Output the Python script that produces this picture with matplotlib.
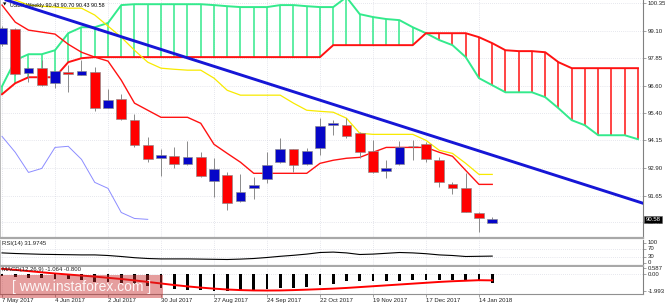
import numpy as np
import pandas as pd
import matplotlib
matplotlib.use("Agg")
import matplotlib.pyplot as plt
from matplotlib.patches import Rectangle
import matplotlib.transforms as mtransforms

plt.rcParams['font.family'] = ['Liberation Sans', 'DejaVu Sans']

# ---------------- data ----------------
title_text = "USDX,Weekly 90.43 90.70 90.43 90.58"
start_date = "2017-05-07"

opens = [98.50, 99.17, 97.18, 97.41, 96.73, 97.23, 97.09, 97.23, 95.60, 96.01,
         95.06, 93.92, 93.34, 93.43, 93.06, 93.38, 92.30, 92.57, 91.39, 91.98,
         92.39, 93.15, 93.74, 93.06, 93.79, 94.83, 94.83, 94.47, 93.65, 92.75,
         93.06, 93.88, 93.97, 93.25, 92.16, 91.98, 90.85, 90.43]
highs = [99.31, 99.22, 97.45, 97.77, 97.29, 97.54, 97.77, 97.45, 96.46, 96.23,
         95.33, 94.29, 93.74, 93.83, 94.10, 93.61, 93.34, 92.70, 92.61, 92.48,
         93.61, 94.24, 93.76, 93.79, 95.15, 95.06, 95.15, 94.51, 94.15, 93.25,
         94.10, 94.15, 94.06, 93.38, 92.25, 92.66, 90.89, 90.70]
lows = [98.40, 97.09, 96.78, 96.59, 96.50, 96.32, 97.09, 95.46, 95.60, 95.08,
        93.83, 93.15, 92.52, 92.88, 93.02, 92.48, 91.57, 90.98, 91.35, 91.48,
        92.20, 93.11, 92.70, 93.04, 93.47, 94.38, 94.24, 93.34, 92.66, 92.43,
        93.02, 93.25, 93.15, 92.02, 91.71, 90.89, 90.03, 90.43]
closes = [99.22, 97.14, 97.41, 96.64, 97.27, 97.14, 97.27, 95.60, 95.96, 95.10,
          93.92, 93.29, 93.47, 93.06, 93.38, 92.52, 92.84, 91.30, 91.80, 92.11,
          93.02, 93.74, 93.02, 93.65, 94.78, 94.92, 94.33, 93.61, 92.70, 92.88,
          93.83, 93.88, 93.29, 92.25, 91.98, 90.89, 90.62, 90.58]

tenkan = [100.26, 99.49, 99.13, 99.04, 98.95, 98.49, 98.13, 97.91, 97.73, 96.87,
          95.83, 95.51, 95.19, 95.19, 95.19, 94.92, 93.97, 93.56, 93.16, 92.66,
          92.66, 92.66, 92.66, 92.66, 93.11, 93.25, 93.34, 93.38, 93.61, 93.83,
          93.83, 93.83, 93.83, 93.61, 93.43, 92.79, 92.16, 92.16]
kijun = [100.62, 100.49, 100.26, 100.21, 100.17, 100.12, 100.12, 99.81, 99.31, 98.81,
         98.22, 97.68, 97.41, 97.36, 97.32, 97.32, 96.96, 96.41, 96.19, 96.19,
         96.19, 96.19, 95.83, 95.51, 95.46, 95.42, 95.15, 94.47, 94.42, 94.42,
         94.42, 94.42, 94.15, 93.70, 93.56, 93.11, 92.61, 92.61]
span_a = [96.59, 97.77, 98.04, 98.04, 98.22, 98.99, 99.26, 99.26, 99.45, 100.26,
          100.30, 100.30, 100.30, 100.30, 100.30, 100.30, 100.26, 100.21, 100.17, 100.17,
          100.17, 100.26, 100.26, 100.21, 100.17, 100.17, 100.62, 99.85, 99.72, 99.63,
          99.58, 99.26, 98.99, 98.68, 98.45, 97.91, 96.96, 96.64, 96.32, 96.32,
          96.32, 96.10, 95.60, 95.06, 94.83, 94.38, 94.38, 94.38, 94.20]
span_b = [96.23, 96.73, 97.00, 97.00, 97.00, 97.68, 97.86, 97.91, 97.91, 97.91,
          97.91, 97.91, 97.91, 97.91, 97.91, 97.91, 97.91, 97.91, 97.91, 97.91,
          97.91, 97.91, 97.91, 97.91, 97.91, 98.45, 98.45, 98.45, 98.45, 98.45,
          98.45, 98.45, 98.99, 98.99, 98.99, 98.99, 98.81, 98.54, 98.22, 98.18,
          98.18, 98.13, 97.68, 97.41, 97.41, 97.41, 97.41, 97.41, 97.41]
chikou_shift = 26

trend_anchor_idx = [0, 48]
trend_anchor_price = [100.55, 91.38]

price_ticks = [100.35, 99.10, 97.85, 96.60, 95.40, 94.15, 92.90, 91.65, 90.45]
last_price = 90.58

rsi = [48, 45, 43, 41, 40, 39, 38, 38, 35, 30,
       24, 20, 18, 18, 18, 17, 16, 15, 17, 20,
       25, 31, 36, 42, 50, 52, 48, 40, 42, 46,
       50, 48, 44, 38, 35, 30, 31, 32]
rsi_label = "RSI(14) 31.9745"
rsi_ticks = [100, 70, 30, 0]

macd_main = [-0.30, -0.37, -0.49, -0.56, -0.60, -0.68, -0.75, -0.95, -1.00, -1.14,
             -1.26, -1.42, -1.65, -1.80, -1.92, -1.93, -1.99, -1.99, -1.96, -1.92,
             -1.85, -1.72, -1.65, -1.53, -1.34, -1.20, -0.90, -0.87, -0.87, -0.85,
             -0.87, -0.78, -0.76, -0.76, -0.76, -0.76, -0.76, -1.06]
macd_signal = [0.55, 0.42, 0.28, 0.14, 0.00, -0.12, -0.24, -0.36, -0.50, -0.64,
               -0.80, -0.98, -1.16, -1.34, -1.50, -1.64, -1.76, -1.86, -1.93, -1.97,
               -1.98, -1.97, -1.93, -1.88, -1.82, -1.76, -1.68, -1.58, -1.48, -1.38,
               -1.28, -1.18, -1.08, -0.98, -0.90, -0.84, -0.78, -0.80]
macd_label = "MACD(12,26,9) -1.064 -0.800"
macd_ticks = [0.587, 0.00, -1.993]
macd_tick_labels = ["0.587", "0.00", "-1.993"]

watermark = "[ www.instaforex.com ]"

# ---------------- figure ----------------
W, H = 665, 306
fig = plt.figure(figsize=(W / 100, H / 100), dpi=100)
fig.patch.set_facecolor("white")

def box(top, bottom, left=0, right=643):
    return [left / W, 1 - bottom / H, (right - left) / W, (bottom - top) / H]

ax = fig.add_axes(box(0, 237.5))
ax_rsi = fig.add_axes(box(239.5, 265.5))
ax_macd = fig.add_axes(box(267, 294))

n = len(closes)
idx = np.arange(n)
XL = (-0.151, 48.38)
FS = 4.3
GRID = dict(color="#cfd0dc", lw=0.5, ls=(0, (1, 2)))
GREEN = "#33ea8c"
RED = "#ff1212"

dates = pd.date_range(start_date, periods=n, freq="7D")
date_idx = list(range(0, n, 4))
date_labels = [f"{dates[i].day} {dates[i].strftime('%b %Y')}" for i in date_idx]

for a in (ax, ax_rsi, ax_macd):
    a.set_xlim(*XL)
    a.set_facecolor("white")
    a.yaxis.tick_right()
    a.spines["top"].set_visible(False)
    a.spines["left"].set_color("#b0b0b0")
    a.spines["left"].set_linewidth(0.6)
    a.spines["right"].set_color("#808080")
    a.spines["right"].set_linewidth(0.8)
    a.tick_params(axis="y", length=2, width=0.5, color="#808080", labelsize=FS, pad=1.2, labelcolor="#222222")
    a.set_xticks(date_idx)
    for i in date_idx:
        a.axvline(i, zorder=0, **GRID)

# main panel
ax.set_ylim(89.76, 100.49)
ax.spines["bottom"].set_color("#a8a8a8")
ax.spines["bottom"].set_linewidth(1.6)
ax.tick_params(axis="x", length=0, labelbottom=False)
ax.set_yticks(price_ticks)
ax.set_yticklabels([f"{v:.2f}" for v in price_ticks])
for v in price_ticks:
    ax.axhline(v, zorder=0, **GRID)

sa = np.array(span_a)
sb = np.array(span_b)
xc = np.arange(len(sa))
bull = sa >= sb
ax.vlines(xc[bull], sb[bull], sa[bull], colors=GREEN, lw=1.1, zorder=1)
ax.vlines(xc[~bull], sa[~bull], sb[~bull], colors=RED, lw=1.1, zorder=1)
ax.plot(xc, sa, color=GREEN, lw=1.4, zorder=2, solid_joinstyle="round")
ax.plot(xc, sb, color=RED, lw=1.4, zorder=2, solid_joinstyle="round")

chikou = closes[chikou_shift:]
ax.plot(np.arange(len(chikou)), chikou, color="#8c8cff", lw=0.7, zorder=2)
ax.plot(idx, kijun, color="#f8ea00", lw=0.9, zorder=3)
ax.plot(idx, tenkan, color=RED, lw=1.0, zorder=3)

o = np.array(opens); c = np.array(closes)
hi = np.array(highs); lo = np.array(lows)
ax.vlines(idx, lo, hi, colors="#8a8a8a", lw=0.7, zorder=4)
cols = np.where(c > o, "#0606c8", np.where(c < o, "#ff0000", "#909090"))
heights = np.where(np.abs(c - o) < 0.03, 0.03, c - o)
ax.bar(idx, heights, bottom=o, width=0.74, color=cols, edgecolor="#8a8a8a",
       linewidth=0.45, zorder=4.5)

ax.axline((trend_anchor_idx[0], trend_anchor_price[0]),
          (trend_anchor_idx[1], trend_anchor_price[1]),
          color="#1616d6", lw=2.1, zorder=5)

ax.text(3 / 643, 1 - 5 / 237.5, "\u25bc", transform=ax.transAxes, fontsize=3.2,
        va="center", ha="left", color="black", zorder=4.8,
        family=["DejaVu Sans"])
ax.text(10 / 643, 1 - 5 / 237.5, title_text, transform=ax.transAxes, fontsize=3.9,
        va="center", ha="left", color="black", zorder=4.8)

trans = mtransforms.blended_transform_factory(ax.transAxes, ax.transData)
ax.text(1.0 + 2.5 / 643, last_price, f"{last_price:.2f}", transform=trans,
        fontsize=FS, color="white", va="center", ha="left", clip_on=False, zorder=20,
        bbox=dict(boxstyle="square,pad=0.18", fc="black", ec="#606060", lw=0.4))

# RSI panel
ax_rsi.set_ylim(-15, 115)
ax_rsi.spines["bottom"].set_color("#a8a8a8")
ax_rsi.spines["bottom"].set_linewidth(1.6)
ax_rsi.tick_params(axis="x", length=0, labelbottom=False)
ax_rsi.set_yticks(rsi_ticks)
ax_rsi.set_yticklabels([str(v) for v in rsi_ticks])
for v in (70, 30):
    ax_rsi.axhline(v, zorder=0, **GRID)
ax_rsi.plot(idx, rsi, color="black", lw=0.8, zorder=3)
ax_rsi.text(2 / 643, 1 - 4.5 / 26, rsi_label, transform=ax_rsi.transAxes,
            fontsize=FS, va="center", ha="left", color="#222222")

# MACD panel
ax_macd.set_ylim(-2.384, 0.756)
ax_macd.spines["bottom"].set_color("#909090")
ax_macd.spines["bottom"].set_linewidth(0.8)
ax_macd.set_yticks(macd_ticks)
ax_macd.set_yticklabels(macd_tick_labels)
ax_macd.axhline(0, zorder=0, **GRID)
ax_macd.bar(idx, macd_main, width=0.22, color="black", zorder=3)
ax_macd.plot(idx, macd_signal, color="#ff0000", lw=1.4, zorder=4)
ax_macd.text(2 / 643, 1 - 3 / 27, macd_label, transform=ax_macd.transAxes,
             fontsize=FS, va="center", ha="left", color="#222222", zorder=5)
ax_macd.set_xticklabels(date_labels, ha="left")
ax_macd.tick_params(axis="x", length=2, width=0.5, color="#808080", labelsize=FS,
                    pad=1.0, labelcolor="#222222")
for lab in ax_macd.get_xticklabels():
    lab.set_horizontalalignment("left")

# watermark
fig.patches.append(Rectangle((0, 1 - 298 / H), 163 / W, 23 / H, transform=fig.transFigure,
                             fc="#c62828", alpha=0.45, ec="none", zorder=10))
fig.text(82 / W, 1 - 286.5 / H, watermark, fontsize=10, color="white", alpha=0.9,
         ha="center", va="center", zorder=11)

fig.savefig("out.png", dpi=100, facecolor="white")
